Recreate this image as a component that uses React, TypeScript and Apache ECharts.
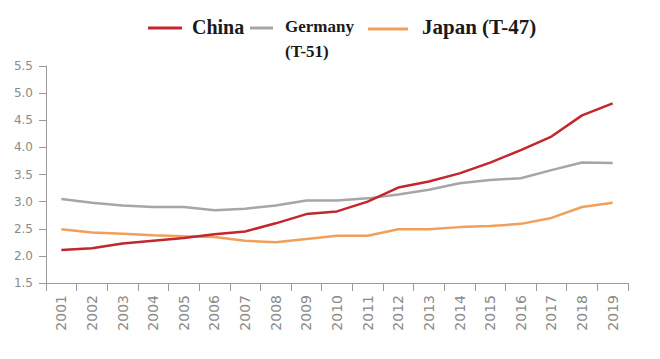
import React, { useEffect, useRef } from "react";
import * as echarts from "echarts";

const years = ["2001","2002","2003","2004","2005","2006","2007","2008","2009","2010","2011","2012","2013","2014","2015","2016","2017","2018","2019"];
const china = [2.11, 2.14, 2.23, 2.28, 2.33, 2.4, 2.45, 2.6, 2.77, 2.82, 3.0, 3.26, 3.37, 3.52, 3.72, 3.95, 4.2, 4.59, 4.81];
const germany = [3.05, 2.98, 2.93, 2.9, 2.9, 2.84, 2.87, 2.93, 3.02, 3.02, 3.06, 3.13, 3.22, 3.34, 3.4, 3.43, 3.58, 3.72, 3.71];
const japan = [2.49, 2.43, 2.41, 2.38, 2.36, 2.35, 2.28, 2.25, 2.31, 2.37, 2.37, 2.49, 2.49, 2.53, 2.55, 2.59, 2.7, 2.9, 2.98];
const seriesNames = ["China", "Germany (T-51)", "Japan (T-47)"];
const colors = ["#c1272d", "#a6a6a6", "#f0a05a"];

export default function App() {
  const ref = useRef<HTMLDivElement>(null);
  useEffect(() => {
    if (!ref.current) return;
    const chart = echarts.init(ref.current, undefined, { renderer: "svg" });
    const serif = "'Liberation Serif', 'Times New Roman', serif";
    const txt = (x: number, y: number, text: string, size: number) => ({
      type: "text",
      x,
      y,
      style: {
        text,
        fill: "#1a1a1a",
        font: `bold ${size}px ${serif}`,
        verticalAlign: "middle",
        align: "left",
      },
    });
    const ln = (x1: number, x2: number, y: number, c: string) => ({
      type: "line",
      shape: { x1, y1: y, x2, y2: y },
      style: { stroke: c, lineWidth: 3 },
    });
    chart.setOption({
      animation: false,
      grid: { left: 46, right: 32, top: 66, bottom: 76 },
      graphic: [
        ln(148, 182, 28, colors[0]),
        txt(192, 27, seriesNames[0], 20),
        ln(250, 273, 28, colors[1]),
        txt(285, 26, "Germany", 17),
        txt(285, 51, "(T-51)", 17),
        ln(368, 408, 29, colors[2]),
        txt(422, 27, seriesNames[2], 21),
      ],
      xAxis: {
        type: "category",
        data: years,
        boundaryGap: true,
        axisLine: { lineStyle: { color: "#9a9a9a", width: 1 } },
        axisTick: { show: true, length: 8, lineStyle: { color: "#9a9a9a" } },
        axisLabel: {
          rotate: 90,
          interval: 0,
          margin: 12,
          color: "#8a8a8a",
          fontSize: 14,
          fontFamily: "DejaVu Sans",
        },
      },
      yAxis: {
        type: "value",
        min: 1.5,
        max: 5.5,
        interval: 0.5,
        axisLine: { show: true, lineStyle: { color: "#9a9a9a", width: 1 } },
        axisTick: { show: true, length: 7, lineStyle: { color: "#9a9a9a" } },
        splitLine: { show: false },
        axisLabel: {
          color: "#8a8a8a",
          fontSize: 12,
          fontFamily: "DejaVu Sans",
          margin: 13,
          formatter: (v: number) => v.toFixed(1),
        },
      },
      series: [china, germany, japan].map((d, i) => ({
        name: seriesNames[i],
        type: "line",
        data: d,
        symbol: "none",
        lineStyle: { color: colors[i], width: 2.5 },
        itemStyle: { color: colors[i] },
        z: 3 - i,
      })),
    });
    return () => chart.dispose();
  }, []);
  return (
    <div
      ref={ref}
      style={{ position: "absolute", left: 0, top: 0, width: 660, height: 359 }}
    />
  );
}
